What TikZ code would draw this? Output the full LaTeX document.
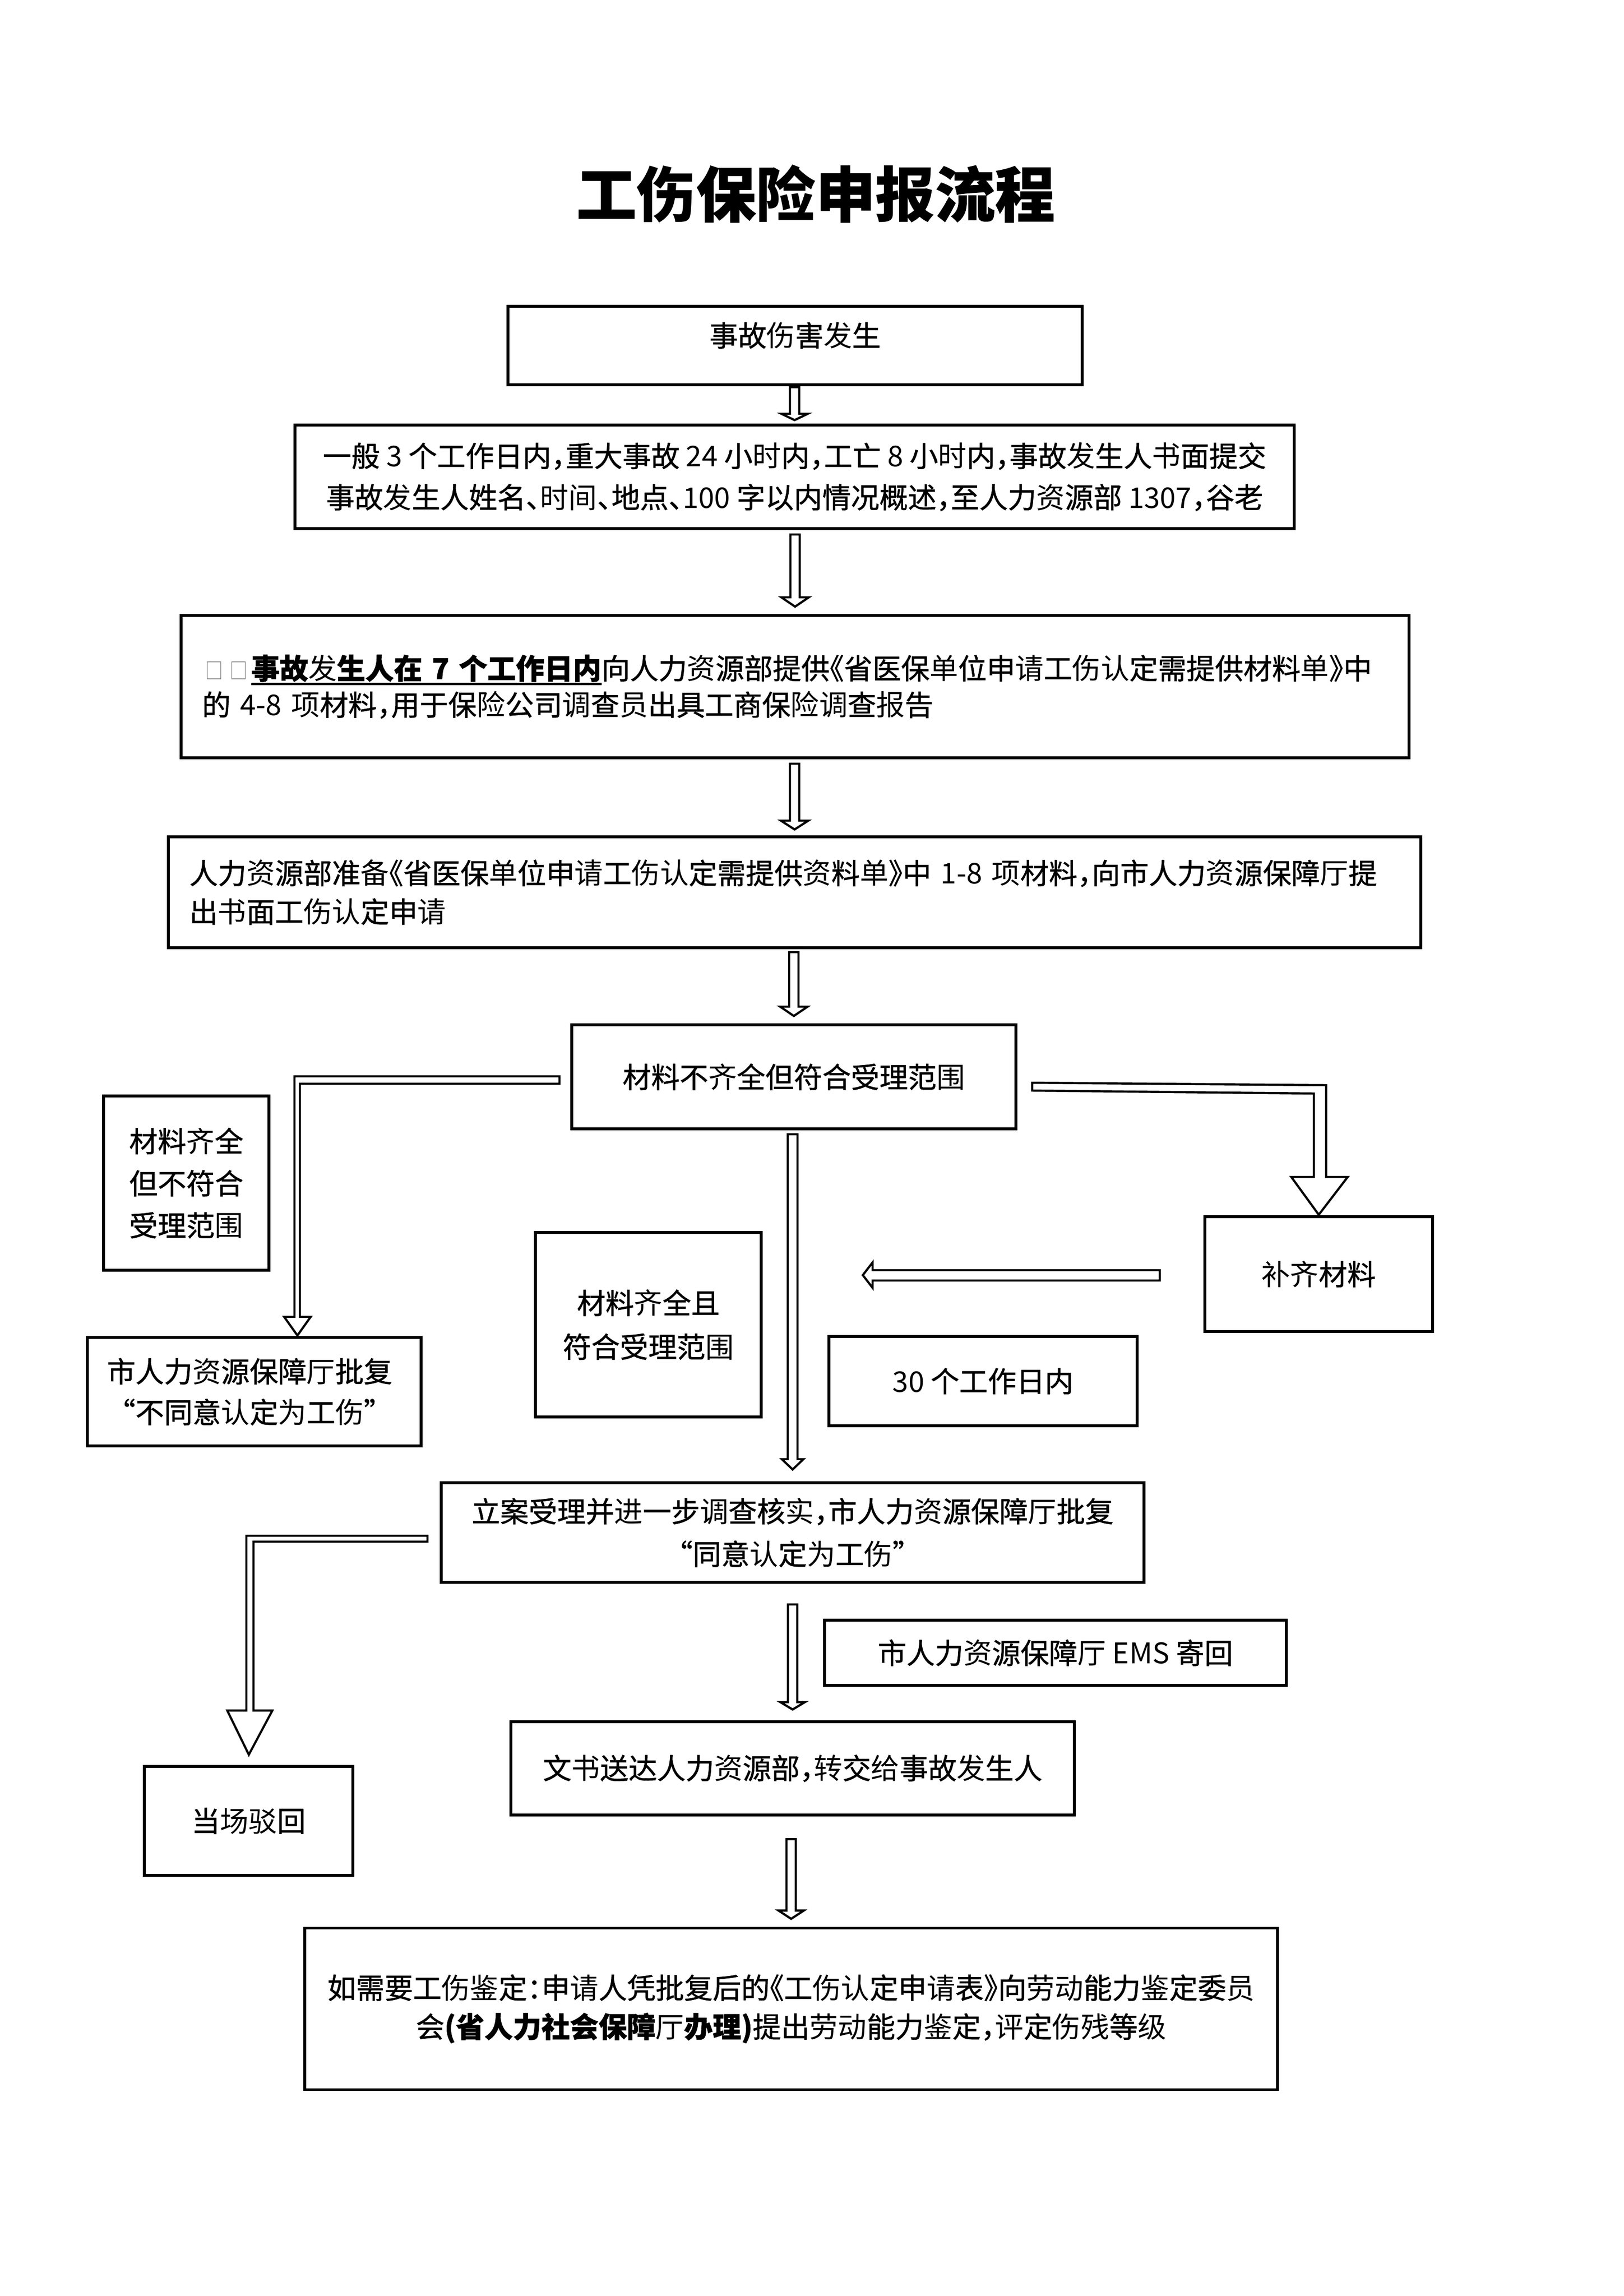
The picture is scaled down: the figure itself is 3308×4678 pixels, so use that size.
\documentclass[tikz,border=0pt]{standalone}
\usepackage{fontspec}
\usepackage{graphicx}
\usetikzlibrary{calc}
\setmainfont{Noto Sans CJK SC}
\newfontfamily\cjk{Noto Sans CJK SC}[FakeBold=1,RawFeature=+halt]
\newfontfamily\cjklt{Noto Sans CJK SC}[RawFeature=+halt]
\newfontfamily\cjkq{Noto Sans CJK SC}[FakeBold=1,RawFeature=+fwid]
\newcommand\pxu{0.0063482cm}
\newcommand\lgt[1]{{\cjklt\mdseries #1}}
\newcommand\lgtb[1]{{\cjklt\bfseries #1}}
\newcommand\fwq[1]{{\cjkq #1}}
\newsavebox\ulbox
\newcommand\thul[1]{\sbox\ulbox{#1}\rlap{\rule[-2.2pt]{\wd\ulbox}{0.95pt}}\usebox\ulbox}
\newcommand\tofu{\makebox[0.86em][c]{\textcolor{black!50}{\scalebox{0.62}[0.78]{\lgt{□}}}}}
\tikzset{
  box/.style={draw, line width=1.05pt, inner sep=0pt, outer sep=0pt, fill=white,
    font=\cjk\fontsize{10.5pt}{14pt}\selectfont},
  wh/.style 2 args={minimum width=#1*\pxu, minimum height=#2*\pxu},
  ls/.style={font=\cjk\fontsize{10.5pt}{#1}\selectfont},
  arr/.style={draw, line width=0.8pt, fill=white, line join=miter},
  ttl/.style={font=\cjk\bfseries\fontsize{22pt}{26pt}\selectfont, inner sep=0pt}
}
% vertical hollow arrow: #1 source, #2 target, #3 top gap, #4 tip gap, #5 shaft half, #6 head half, #7 head length
\newcommand\dnarrow[7]{%
  \draw[arr] ($(#2.north |- #1.south)+(-#5,#3)$) -- ($(#2.north)+(-#5,-#4-#7)$)
    -- ($(#2.north)+(-#6,-#4-#7)$) -- ($(#2.north)+(0,-#4)$)
    -- ($(#2.north)+(#6,-#4-#7)$) -- ($(#2.north)+(#5,-#4-#7)$)
    -- ($(#2.north |- #1.south)+(#5,#3)$) -- cycle;}
\begin{document}
\begin{tikzpicture}[x=0.0063482cm, y=-0.0063482cm]
\useasboundingbox (0,0) rectangle (3308,4678);
\fill[white] (0,0) rectangle (3308,4678);

\node[ttl] (title) at (1662,395) {工\lgtb{伤}保\lgtb{险}申\lgtb{报}流程};

\node[box, wh={1170}{160}] (b1) at (1620,704) {\raisebox{8.3pt}{事故\lgt{伤}害\lgt{发}生}};

\node[box, wh={2036}{211}, align=center, ls=15.2pt] (b2) at (1619,971.5)
  {一般 \lgt{3} 个工作日内，重大事故 \lgt{24} 小\lgt{时}内，工亡 \lgt{8} 小\lgt{时}内，事故\lgt{发}生人\lgt{书}面提交\\事故\lgt{发}生人姓名、\lgt{时间}、地点、\lgt{100} 字以内情况概述，至人力\lgt{资}源部 \lgt{1307}，谷老};

\node[box, wh={2502}{290}, text width=15.337cm, align=left, ls=13.4pt] (b3) at (1620,1399)
  {\tofu\tofu\textbf{\thul{事故\lgt{发}生人在~7~个工作日内}}向人力\lgt{资}源部提供《省医保\lgt{单}位申\lgt{请}工\lgt{伤认}定需提供材料\lgt{单}》中\\的~\lgt{4-8}~\lgt{项}材料，用于保\lgt{险}公司\lgt{调}查\lgt{员}出具工商保\lgt{险调}查\lgt{报}告};

\node[box, wh={2552}{226}, text width=15.655cm, align=left, ls=14.2pt] (b4) at (1619,1818)
  {人力\lgt{资}源部准\lgt{备}《省医保\lgt{单}位申\lgt{请}工\lgt{伤认}定需提供\lgt{资}料\lgt{单}》中~\lgt{1-8}~\lgt{项}材料，向市人力\lgt{资}源保障\lgt{厅}提\\出\lgt{书}面工\lgt{伤认}定申\lgt{请}};

\node[box, wh={905}{212}] (b5) at (1617.5,2194) {材料不\lgt{齐}全但符合受理范\lgt{围}};

\node[box, wh={337}{355}, align=center, ls=15.5pt] (b6) at (379.5,2410.5) {材料\lgt{齐}全\\但不符合\\受理范\lgt{围}};

\node[box, wh={680}{221}, text width=3.809cm, align=left, ls=15pt] (b7) at (518,2835.5)
  {市人力\lgt{资}源保障\lgt{厅}批复\\\fwq{“}不同意\lgt{认}定\lgt{为}工\lgt{伤}\fwq{”}};

\node[box, wh={460}{376}, align=center, ls=16.1pt] (b8) at (1321,2699) {材料\lgt{齐}全且\\符合受理范\lgt{围}};

\node[box, wh={628}{182}] (b9) at (2003,2814) {\lgt{30} 个工作日内};

\node[box, wh={464}{234}] (b10) at (2687,2596) {\lgt{补齐}材料};

\node[box, wh={1432}{203}, align=center, ls=15.7pt] (b11) at (1615,3122.5)
  {立案受理并\lgt{进}一步\lgt{调}查核\lgt{实}，市人力\lgt{资}源保障\lgt{厅}批复\\\fwq{“}同意\lgt{认}定\lgt{为}工\lgt{伤}\fwq{”}};

\node[box, wh={425}{222}] (b12) at (506.5,3710) {当\lgt{场驳}回};

\node[box, wh={941}{133}] (b13) at (2150.5,3367.5) {市人力\lgt{资}源保障\lgt{厅} \lgt{EMS} 寄回};

\node[box, wh={1148}{190}] (b14) at (1615,3603) {文\lgt{书}送达人力\lgt{资}源部，\lgt{转}交\lgt{给}事故\lgt{发}生人};

\node[box, wh={1982}{329}, align=center, ls=14.3pt] (b15) at (1612,4093)
  {如需要工\lgt{伤鉴}定：申\lgt{请}人凭批复后的《工\lgt{伤认}定申\lgt{请}表》向\lgt{劳动}能力\lgt{鉴}定委\lgt{员}\\会\textbf{(省人力社会保障\lgt{厅}办理)}提出\lgt{劳动}能力\lgt{鉴}定，\lgt{评}定\lgt{伤残}等\lgt{级}};

% straight down arrows
\dnarrow{b1}{b2}{5}{10}{9.5}{27}{13}
\dnarrow{b2}{b3}{12}{18}{9.5}{28}{19}
\dnarrow{b3}{b4}{12}{15}{9.5}{28}{18}
\dnarrow{b4}{b5}{9}{18}{9.5}{28}{19}
\dnarrow{b5}{b11}{11}{27}{10}{22}{21}
\dnarrow{b11}{b14}{45}{25}{9.5}{25}{15}
\dnarrow{b14}{b15}{49}{19}{9.5}{26}{17}

% elbow b5 -> b7
\draw[arr] ($(b5.west)+(-25,-1)$) -- ($(b7.north |- b5.west)+(82,-1)$)
  -- ($(b7.north)+(82,-42)$) -- ($(b7.north)+(61,-42)$) -- ($(b7.north)+(88,-4)$)
  -- ($(b7.north)+(115,-42)$) -- ($(b7.north)+(93,-42)$)
  -- ($(b7.north |- b5.west)+(93,14)$) -- ($(b5.west)+(-25,14)$) -- cycle;

% elbow b5 -> b10
\draw[arr] ($(b5.east)+(33,12)$) -- ($(b10.north |- b5.east)+(15,17)$)
  -- ($(b10.north)+(15,-81)$) -- ($(b10.north)+(59,-81)$) -- ($(b10.north)+(0,-4)$)
  -- ($(b10.north)+(-56,-81)$) -- ($(b10.north)+(-10,-81)$)
  -- ($(b10.north |- b5.east)+(-10,34)$) -- ($(b5.east)+(33,28)$) -- cycle;

% b10 -> left
\coordinate (m8) at ($(b10.west)+(-697,2)$);
\draw[arr] ($(b10.west)+(-92,-8)$) -- ($(m8)+(20,-10)$) -- ($(m8)+(20,-26)$) -- (m8)
  -- ($(m8)+(20,26)$) -- ($(m8)+(20,11)$) -- ($(b10.west)+(-92,13)$) -- cycle;

% elbow b11 -> b12
\draw[arr] ($(b11.west)+(-28,6.5)$) -- ($(b12.north |- b11.west)+(-4.5,6.5)$)
  -- ($(b12.north)+(-4.5,-114)$) -- ($(b12.north)+(-43.5,-114)$) -- ($(b12.north)+(0.5,-24)$)
  -- ($(b12.north)+(48.5,-114)$) -- ($(b12.north)+(10,-114)$)
  -- ($(b12.north |- b11.west)+(10,18.5)$) -- ($(b11.west)+(-28,18.5)$) -- cycle;
\end{tikzpicture}
\end{document}
